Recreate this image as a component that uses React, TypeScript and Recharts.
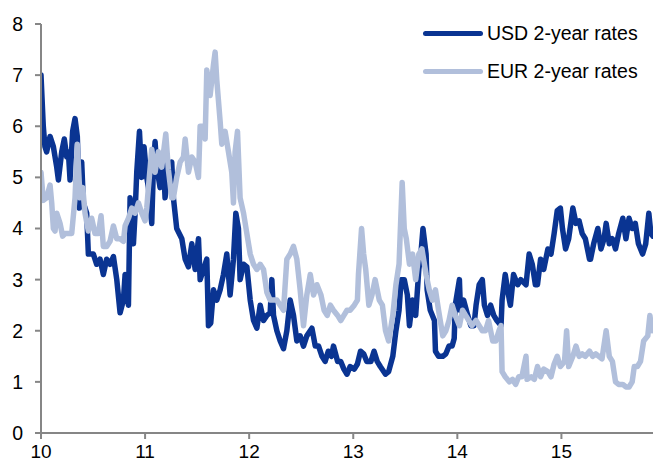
import { LineChart, Line, XAxis, YAxis, Legend } from 'recharts'

// USD 2-year rates (x in years, 10 = 2010)
const usdYears = [
  10.0, 10.022, 10.038, 10.054, 10.087, 10.119, 10.151, 10.167, 10.199, 10.224,
  10.247, 10.263, 10.279, 10.304, 10.327, 10.349, 10.369, 10.391, 10.407, 10.439,
  10.455, 10.503, 10.535, 10.567, 10.599, 10.631, 10.663, 10.696, 10.728, 10.76,
  10.792, 10.808, 10.84, 10.856, 10.888, 10.904, 10.92, 10.946, 10.968, 10.99,
  11.016, 11.032, 11.064, 11.08, 11.096, 11.112, 11.144, 11.176, 11.192, 11.224,
  11.256, 11.272, 11.304, 11.353, 11.385, 11.417, 11.449, 11.481, 11.513, 11.529,
  11.561, 11.593, 11.609, 11.631, 11.657, 11.689, 11.721, 11.753, 11.785, 11.817,
  11.849, 11.872, 11.897, 11.913, 11.946, 11.978, 12.01, 12.042, 12.074, 12.106,
  12.138, 12.17, 12.202, 12.218, 12.234, 12.266, 12.298, 12.33, 12.362, 12.394,
  12.426, 12.458, 12.49, 12.522, 12.554, 12.603, 12.635, 12.667, 12.7, 12.73,
  12.76, 12.79, 12.81, 12.85, 12.88, 12.91, 12.94, 12.97, 13.01, 13.04,
  13.07, 13.1, 13.13, 13.17, 13.2, 13.23, 13.26, 13.31, 13.34, 13.38,
  13.41, 13.44, 13.46, 13.49, 13.52, 13.54, 13.57, 13.6, 13.63, 13.65,
  13.67, 13.7, 13.71, 13.74, 13.78, 13.79, 13.82, 13.86, 13.89, 13.92,
  13.95, 13.97, 13.98, 14.02, 14.03, 14.06, 14.1, 14.13, 14.16, 14.18,
  14.21, 14.24, 14.26, 14.29, 14.32, 14.35, 14.38, 14.42, 14.43, 14.46,
  14.5, 14.51, 14.54, 14.58, 14.61, 14.66, 14.69, 14.72, 14.75, 14.77,
  14.8, 14.83, 14.87, 14.9, 14.93, 14.96, 14.99, 15.01, 15.04, 15.07,
  15.11, 15.14, 15.17, 15.2, 15.23, 15.27, 15.28, 15.31, 15.35, 15.38,
  15.41, 15.43, 15.46, 15.49, 15.52, 15.55, 15.59, 15.62, 15.65, 15.68,
  15.71, 15.74, 15.78, 15.81, 15.84, 15.86, 15.88,
]
const usdRates = [
  7.0, 6.0, 5.6, 5.5, 5.8, 5.6, 5.2, 4.95, 5.5, 5.75,
  5.4, 5.5, 4.95, 5.9, 6.15, 5.8, 4.4, 5.3, 4.5, 4.3,
  3.5, 3.5, 3.3, 3.4, 3.1, 3.4, 3.3, 3.45, 3.0, 2.35,
  2.6, 3.1, 2.5, 4.6, 3.7, 4.3, 5.1, 5.9, 5.0, 5.6,
  5.0, 4.8, 4.1, 5.2, 5.7, 5.2, 4.8, 5.3, 4.6, 5.2,
  5.3, 4.6, 4.0, 3.8, 3.4, 3.25, 3.7, 3.2, 3.8, 3.0,
  3.2, 3.4, 2.1, 2.15, 2.8, 2.6, 2.8, 3.1, 3.5, 2.7,
  3.4, 4.3, 4.0, 3.0, 3.3, 3.25, 2.6, 2.2, 2.05, 2.5,
  2.2, 2.3, 2.35, 3.0, 2.3, 2.0, 1.8, 1.65, 2.0, 2.6,
  2.3, 1.8, 1.9, 1.7, 1.9, 2.05, 1.7, 1.7, 1.5, 1.4,
  1.6, 1.5, 1.7, 1.4, 1.4, 1.25, 1.15, 1.3, 1.25, 1.35,
  1.6, 1.55, 1.4, 1.4, 1.6, 1.4, 1.3, 1.15, 1.2, 1.5,
  2.0, 2.4, 3.0, 3.0, 2.7, 2.1, 2.6, 2.3, 3.2, 3.5,
  4.0, 3.5, 2.8, 2.4, 2.2, 1.6, 1.5, 1.5, 1.55, 1.7,
  1.7, 1.85, 2.5, 3.0, 2.4, 2.6, 2.3, 2.1, 2.1, 2.5,
  2.9, 3.0, 2.5, 2.3, 2.5, 2.3, 2.2, 2.1, 2.6, 3.1,
  2.6, 2.5, 3.1, 2.9, 3.0, 2.9, 3.5, 3.3, 2.9, 2.9,
  3.4, 3.2, 3.6, 3.5, 3.9, 4.35, 4.4, 4.0, 3.6, 3.8,
  4.4, 4.1, 4.15, 3.9, 3.8, 3.4, 3.4, 3.7, 4.0, 3.6,
  3.8, 4.1, 3.7, 3.8, 3.6, 3.9, 4.2, 3.8, 4.2, 4.0,
  4.1, 3.7, 3.5, 3.7, 4.3, 3.9, 3.85,
]

// EUR 2-year rates
const eurYears = [
  10.0, 10.022, 10.054, 10.087, 10.103, 10.119, 10.135, 10.151, 10.183, 10.208,
  10.231, 10.263, 10.295, 10.327, 10.349, 10.375, 10.401, 10.423, 10.455, 10.487,
  10.519, 10.551, 10.577, 10.599, 10.631, 10.663, 10.696, 10.728, 10.76, 10.792,
  10.808, 10.84, 10.872, 10.904, 10.936, 10.968, 11.0, 11.016, 11.032, 11.064,
  11.096, 11.128, 11.16, 11.199, 11.224, 11.256, 11.272, 11.304, 11.337, 11.369,
  11.385, 11.417, 11.449, 11.481, 11.513, 11.529, 11.561, 11.577, 11.593, 11.625,
  11.657, 11.673, 11.689, 11.721, 11.737, 11.769, 11.801, 11.833, 11.849, 11.865,
  11.888, 11.913, 11.946, 11.978, 12.01, 12.042, 12.074, 12.106, 12.138, 12.17,
  12.202, 12.234, 12.266, 12.298, 12.33, 12.362, 12.394, 12.426, 12.458, 12.49,
  12.522, 12.554, 12.587, 12.619, 12.651, 12.69, 12.72, 12.75, 12.78, 12.81,
  12.85, 12.88, 12.91, 12.94, 12.97, 13.01, 13.04, 13.05, 13.08, 13.1,
  13.12, 13.15, 13.18, 13.21, 13.25, 13.28, 13.31, 13.34, 13.38, 13.41,
  13.44, 13.47, 13.49, 13.51, 13.54, 13.57, 13.6, 13.63, 13.66, 13.7,
  13.73, 13.76, 13.79, 13.82, 13.86, 13.89, 13.92, 13.95, 13.98, 14.02,
  14.05, 14.08, 14.11, 14.14, 14.18, 14.21, 14.24, 14.27, 14.3, 14.34,
  14.37, 14.4, 14.42, 14.43, 14.46, 14.5, 14.53, 14.56, 14.59, 14.62,
  14.66, 14.67, 14.71, 14.74, 14.77, 14.8, 14.83, 14.87, 14.9, 14.93,
  14.96, 14.99, 15.03, 15.05, 15.07, 15.11, 15.14, 15.17, 15.2, 15.23,
  15.27, 15.3, 15.33, 15.36, 15.39, 15.43, 15.46, 15.49, 15.52, 15.55,
  15.59, 15.62, 15.65, 15.68, 15.7, 15.73, 15.76, 15.79, 15.83, 15.85,
  15.87, 15.88,
]
const eurRates = [
  5.1, 4.55, 4.6, 4.85, 4.5, 4.0, 3.95, 4.3, 4.1, 3.85,
  3.9, 3.9, 3.9, 4.6, 5.65, 4.6, 4.8, 4.3, 3.95, 4.2,
  3.9, 3.9, 4.25, 3.65, 3.65, 3.75, 4.05, 3.8, 3.8, 3.75,
  4.05, 4.2, 4.4, 4.3, 4.5, 4.3, 4.15, 4.4, 4.8, 5.55,
  5.1, 5.5, 5.2, 5.85, 5.15, 4.6, 4.6, 5.0, 5.3, 5.4,
  5.75, 5.1, 5.4, 5.3, 5.0, 6.0, 6.0, 5.75, 7.1, 6.6,
  7.2, 7.45, 6.9, 6.1, 5.65, 5.9, 5.5, 5.1, 4.5, 5.5,
  5.9, 4.6, 4.3, 3.9, 3.5, 3.3, 3.2, 3.3, 3.2, 2.75,
  2.6, 2.6, 2.6, 2.5, 2.4, 3.4, 3.5, 3.65, 3.4, 2.8,
  2.1, 2.7, 3.1, 2.7, 2.9, 2.7, 2.4, 2.3, 2.5, 2.4,
  2.3, 2.2, 2.3, 2.4, 2.4, 2.5, 2.6, 3.1, 4.0, 3.5,
  3.2, 2.5, 2.7, 3.0, 2.6, 2.5, 2.0, 1.8, 2.3, 2.9,
  3.3, 4.9, 4.0, 3.8, 3.3, 3.5, 3.0, 3.5, 3.6, 3.1,
  2.8, 2.6, 2.8, 2.4, 1.9, 2.0, 2.2, 2.5, 2.3, 2.1,
  2.4, 2.3, 2.2, 2.1, 2.2, 2.1, 2.0, 2.0, 2.2, 1.8,
  1.8, 2.0, 2.1, 1.2, 1.1, 1.0, 1.05, 0.95, 1.1, 1.1,
  1.5, 1.05, 1.1, 1.05, 1.3, 1.1, 1.25, 1.2, 1.1, 1.35,
  1.5, 1.3, 1.4, 2.0, 1.3, 1.5, 1.7, 1.5, 1.55, 1.5,
  1.6, 1.5, 1.55, 1.5, 1.45, 2.0, 1.5, 1.4, 1.0, 0.95,
  0.95, 0.9, 0.9, 1.0, 1.3, 1.3, 1.4, 1.8, 1.9, 2.3,
  2.0, 2.1,
]

const xTicks = [10, 11, 12, 13, 14, 15]
const yTicks = [0, 1, 2, 3, 4, 5, 6, 7, 8]

const usdData = usdYears.map((year, i) => ({ year, rate: usdRates[i] }))
const eurData = eurYears.map((year, i) => ({ year, rate: eurRates[i] }))

const FONT = '"Liberation Sans", Arial, sans-serif'
const DARK = '#0a3492'
const LIGHT = '#b1bfdb'
const AXIS = '#868686'

const series = [
  { name: 'USD 2-year rates', color: DARK },
  { name: 'EUR 2-year rates', color: LIGHT },
]

function LegendBox() {
  return (
    <div style={{ fontFamily: FONT, fontSize: 19.5, color: '#000' }}>
      {series.map((s) => (
        <div key={s.name} style={{ display: 'flex', alignItems: 'center', height: 38 }}>
          <span
            style={{
              display: 'inline-block',
              width: 60,
              height: 5,
              borderRadius: 3,
              background: s.color,
              marginRight: 4,
            }}
          />
          <span style={{ whiteSpace: 'nowrap' }}>{s.name}</span>
        </div>
      ))}
    </div>
  )
}

export default function App() {
  return (
    <div style={{ position: 'absolute', left: 0, top: 0, width: 654, height: 464, background: '#fff' }}>
      <LineChart width={654} height={464} margin={{ top: 24, right: 1, left: 0, bottom: 0 }}>
        <XAxis
          type="number"
          dataKey="year"
          domain={[10, 15.88]}
          ticks={xTicks}
          allowDataOverflow
          height={31}
          tickSize={6}
          tickMargin={6}
          axisLine={{ stroke: AXIS, strokeWidth: 2 }}
          tickLine={{ stroke: AXIS, strokeWidth: 2 }}
          tick={{ fill: '#000', fontSize: 19, fontFamily: FONT }}
        />
        <YAxis
          type="number"
          domain={[0, 8]}
          ticks={yTicks}
          width={41}
          tickSize={6}
          tickMargin={12}
          axisLine={{ stroke: AXIS, strokeWidth: 2 }}
          tickLine={{ stroke: AXIS, strokeWidth: 2 }}
          tick={{ fill: '#000', fontSize: 19.5, fontFamily: FONT }}
        />
        <Legend
          layout="vertical"
          align="center"
          verticalAlign="middle"
          content={<LegendBox />}
          wrapperStyle={{ position: 'absolute', top: 14, left: 423, width: 231, height: 76 }}
        />
        <Line
          data={usdData}
          dataKey="rate"
          name="USD 2-year rates"
          type="linear"
          stroke={DARK}
          strokeWidth={5.5}
          strokeLinejoin="round"
          strokeLinecap="round"
          dot={false}
          activeDot={false}
          isAnimationActive={false}
        />
        <Line
          data={eurData}
          dataKey="rate"
          name="EUR 2-year rates"
          type="linear"
          stroke={LIGHT}
          strokeWidth={5.5}
          strokeLinejoin="round"
          strokeLinecap="round"
          dot={false}
          activeDot={false}
          isAnimationActive={false}
        />
      </LineChart>
    </div>
  )
}
